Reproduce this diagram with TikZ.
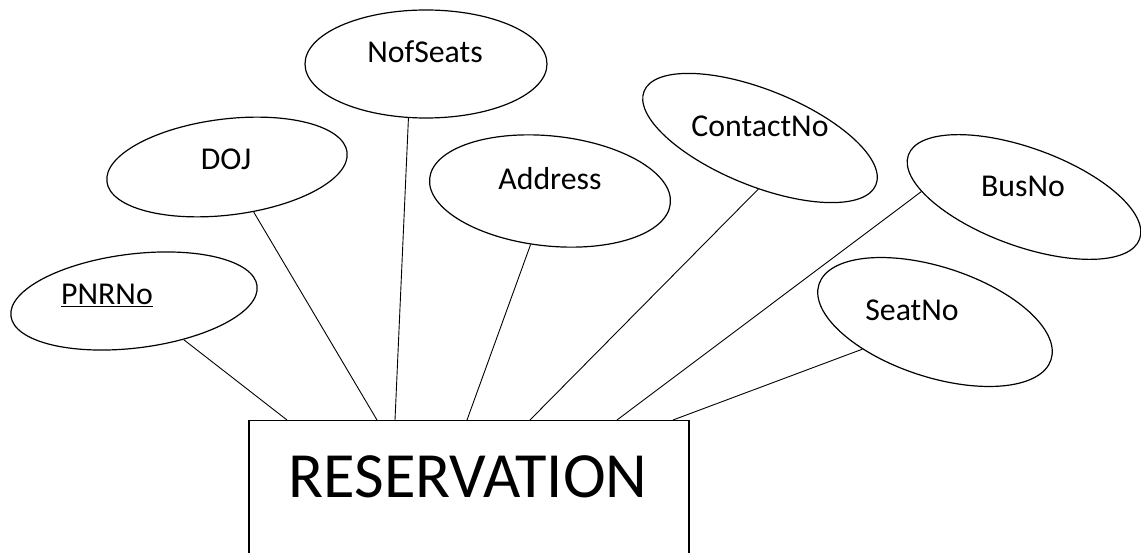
\documentclass[tikz,border=0pt]{standalone}
\usepackage{fontspec}
\setmainfont{Carlito}
\usetikzlibrary{shapes.geometric}
\begin{document}
\begin{tikzpicture}[x=1pt,y=-1pt,
  attr/.style={draw, ellipse, line width=1.2pt, inner sep=0pt},
  lbl/.style={anchor=base, inner sep=0pt, font=\fontsize{31.8}{36}\selectfont},
  entity/.style={draw, rectangle, line width=1.2pt, inner sep=0pt},
  conn/.style={line width=0.9pt}]
\useasboundingbox (0,0) rectangle (1141,553);
\clip (0,0) rectangle (1141,553);
\fill[white] (0,0) rectangle (1141,553);

% attribute ellipses
\node[attr, rotate=7,   minimum width=248pt, minimum height=94pt]  (pnr)  at (134,301) {};
\node[attr, rotate=7,   minimum width=242pt, minimum height=96pt]  (doj)  at (227,167) {};
\node[attr,             minimum width=242pt, minimum height=108pt] (nof)  at (426,64)  {};
\node[attr, rotate=-6,  minimum width=242pt, minimum height=110pt] (addr) at (550,191) {};
\node[attr, rotate=-22, minimum width=250pt, minimum height=96pt]  (cont) at (760,138) {};
\node[attr, rotate=-20, minimum width=246pt, minimum height=98pt]  (bus)  at (1024,197) {};
\node[attr, rotate=-18, minimum width=244pt, minimum height=110pt] (seat) at (935,322) {};

% attribute labels
\node[lbl] (pnrT)  at (107,305) {\underline{PNRNo}};
\node[lbl] (dojT)  at (226,170) {DOJ};
\node[lbl] (nofT)  at (425,63)  {NofSeats};
\node[lbl] (addrT) at (550,190) {Address};
\node[lbl] (contT) at (760,137) {ContactNo};
\node[lbl] (busT)  at (1023,197) {BusNo};
\node[lbl] (seatT) at (912,321) {SeatNo};

% entity
\node[entity, anchor=north, minimum width=440pt, minimum height=200pt] (res) at (469,420) {};
\node[anchor=base, inner sep=0pt, font=\fontsize{64.5}{70}\selectfont] (resT) at (468,497) {RESERVATION};

% attachment points on the entity
\coordinate (r1) at (287,420);
\coordinate (r2) at (377,420);
\coordinate (r3) at (395,420);
\coordinate (r4) at (467,420);
\coordinate (r5) at (530,420);
\coordinate (r6) at (617,420);
\coordinate (r7) at (673,420);

% connectors
\draw[conn] (pnr) -- (r1);
\draw[conn] (doj) -- (r2);
\draw[conn] (nof.252) -- (r3);
\draw[conn] (addr) -- (r4);
\draw[conn] (cont.290) -- (r5);
\draw[conn] (bus.197) -- (r6);
\draw[conn] (seat) -- (r7);
\end{tikzpicture}
\end{document}
